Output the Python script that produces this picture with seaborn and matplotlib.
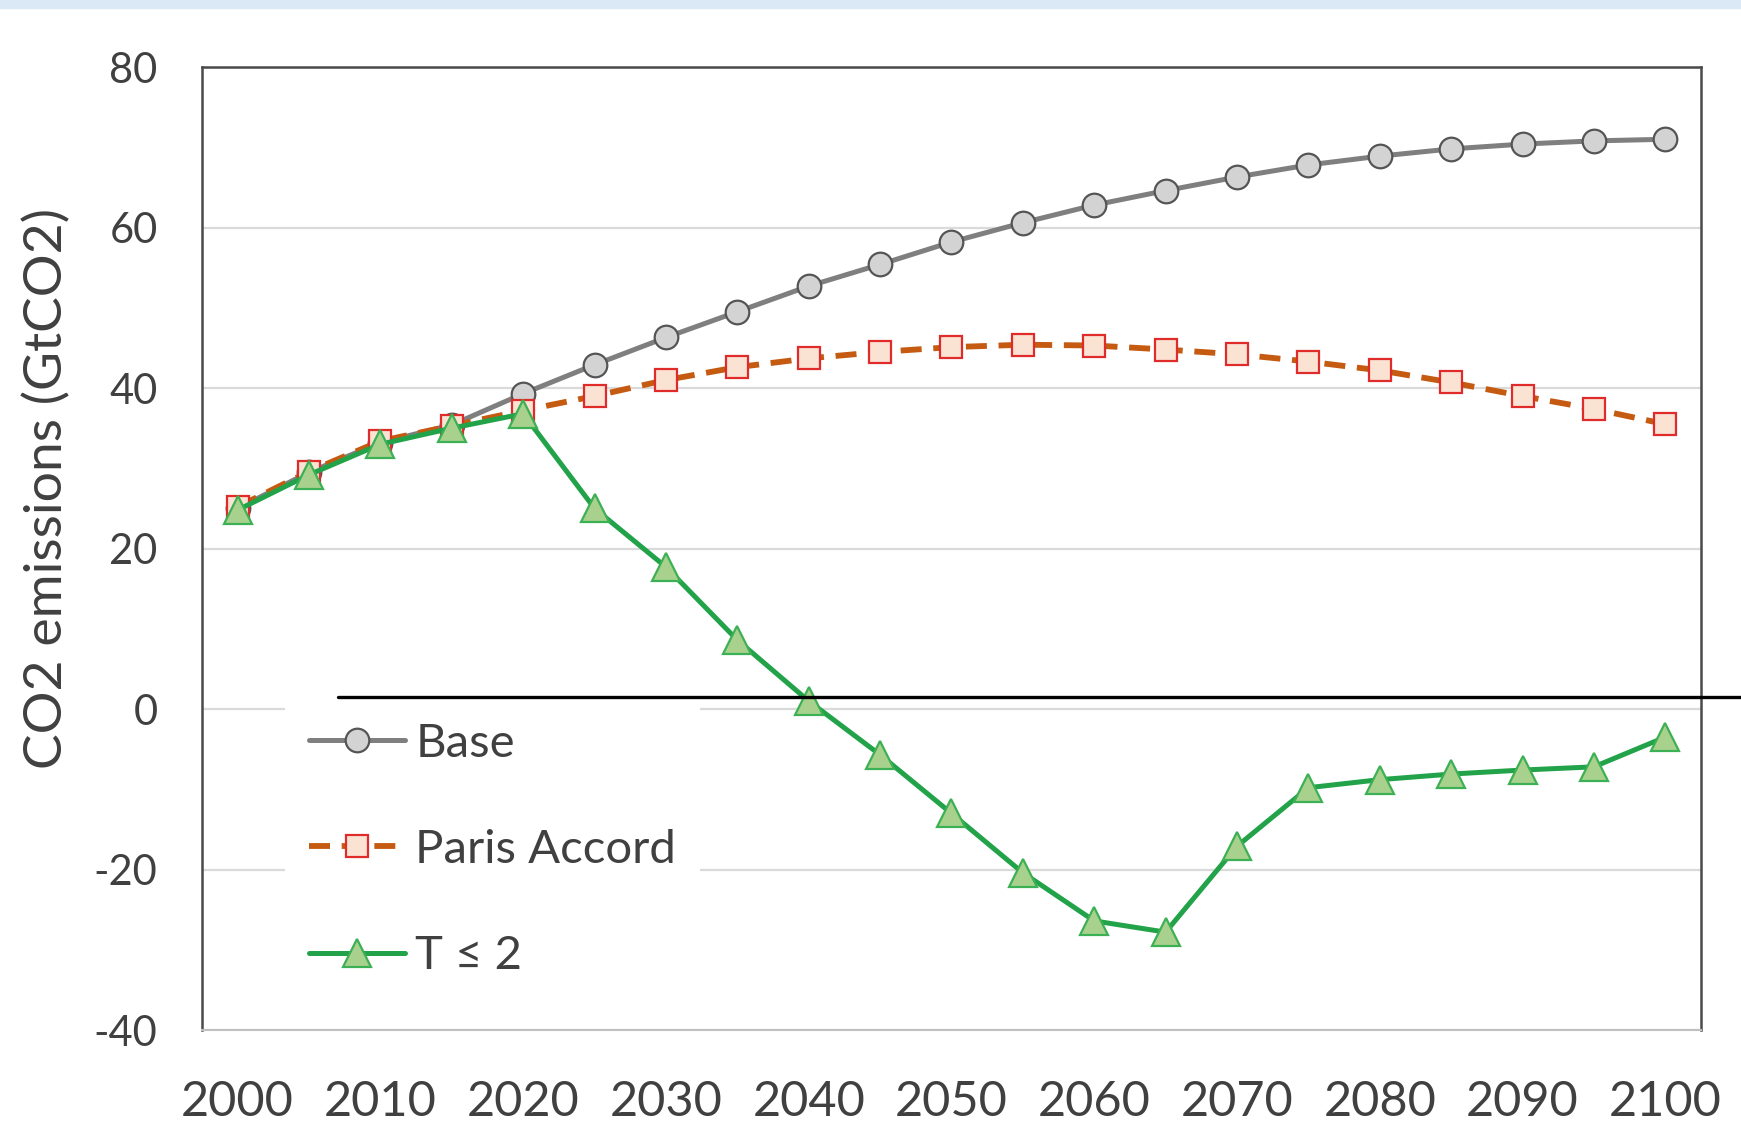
import numpy as np
import pandas as pd
import seaborn as sns
import matplotlib.pyplot as plt
from matplotlib.patches import Rectangle
from matplotlib.transforms import blended_transform_factory

# Emission pathways (GtCO2)
years = [2000, 2005, 2010, 2015, 2020, 2025, 2030, 2035, 2040, 2045, 2050,
         2055, 2060, 2065, 2070, 2075, 2080, 2085, 2090, 2095, 2100]
base = [25.0, 29.5, 33.2, 35.4, 39.3, 42.9, 46.3, 49.5, 52.7, 55.4, 58.2,
        60.6, 62.8, 64.6, 66.3, 67.8, 68.9, 69.8, 70.4, 70.8, 71.0]
paris = [25.2, 29.6, 33.4, 35.3, 37.2, 39.0, 41.0, 42.6, 43.7, 44.5, 45.1,
         45.4, 45.3, 44.8, 44.2, 43.3, 42.2, 40.7, 39.0, 37.4, 35.5]
t_le_2 = [24.8, 29.2, 33.0, 35.0, 36.8, 25.0, 17.7, 8.6, 1.0, -5.7, -13.0,
          -20.4, -26.4, -27.8, -17.1, -9.8, -8.8, -8.1, -7.6, -7.2, -3.5]
series_names = ['Base', 'Paris Accord', 'T \u2264 2']
tick_years = [2000, 2010, 2020, 2030, 2040, 2050, 2060, 2070, 2080, 2090, 2100]
y_ticks = [-40, -20, 0, 20, 40, 60, 80]

df = pd.DataFrame({'year': years, 'Base': base, 'Paris Accord': paris, 'T \u2264 2': t_le_2})

sns.set_theme(style='white')
plt.rcParams['font.family'] = ['Lato', 'DejaVu Sans']
TXT = '#404040'

fig = plt.figure(figsize=(17.41, 11.25), dpi=100)
ax = fig.add_axes([0.116, 0.0844, 0.861, 0.856])

styles = {
    'Base': dict(color='#7f7f7f', lw=3.6, marker='o', ms=17, mfc='#d3d3d3',
                 markeredgecolor='#555555', markeredgewidth=1.6, linestyle='-'),
    'Paris Accord': dict(color='#c55a11', lw=4.2, marker='s', ms=16, mfc='#fbe3d3',
                         markeredgecolor='#e02b2b', markeredgewidth=1.6,
                         linestyle=(0, (3.6, 2.0))),
    'T \u2264 2': dict(color='#22a34a', lw=3.6, marker='^', ms=20, mfc='#a9d18e',
                       markeredgecolor='#3cb054', markeredgewidth=1.6, linestyle='-'),
}
for name in series_names:
    sns.lineplot(data=df, x='year', y=name, ax=ax, label=name,
                 estimator=None, legend=False, **styles[name])

ax.set_xlim(1997.5, 2102.5)
ax.set_ylim(-40, 80)
ax.set_yticks(y_ticks)
ax.set_yticklabels([str(v) for v in y_ticks])
ax.set_xticks(tick_years)
ax.set_xticklabels([str(v) for v in tick_years])
ax.set_xticks(np.arange(1997.5, 2103, 5), minor=True)
ax.tick_params(axis='y', length=0, pad=32, labelsize=30, labelcolor=TXT)
ax.tick_params(axis='x', which='major', length=0, pad=36, labelsize=35, labelcolor=TXT)
ax.tick_params(axis='x', which='minor', direction='in', length=11, width=1.3,
               color='#c0c0c0')
ax.set_xlabel('')
ax.set_ylabel('CO2 emissions (GtCO2)', fontsize=38.5, color=TXT, va='center')
ax.yaxis.set_label_coords(-0.103, 0.562)

ax.set_axisbelow(True)
ax.yaxis.grid(True, color='#dadada', lw=1.6)
ax.xaxis.grid(False)
for side in ['left', 'top', 'right']:
    ax.spines[side].set_color('#4a4a4a')
    ax.spines[side].set_linewidth(1.8)
ax.spines['bottom'].set_color('#c0c0c0')
ax.spines['bottom'].set_linewidth(1.5)

leg = ax.legend(loc='upper left', bbox_to_anchor=(0.0554, 0.3437), borderaxespad=0,
                fontsize=34, frameon=True, fancybox=False, facecolor='white',
                edgecolor='none', framealpha=1, handlelength=2.05,
                handletextpad=0.21, labelspacing=1.36, borderpad=0.5)
for t in leg.get_texts():
    t.set_color(TXT)

# hand-drawn black line just above zero, running past the right edge
trans = blended_transform_factory(ax.transAxes, ax.transData)
ax.plot([0.0907, 1.03], [1.5, 1.5], color='black', lw=2.4, transform=trans,
        clip_on=False, zorder=6)

# light strip along the top of the screenshot
fig.patches.append(Rectangle((0, 0.993), 1, 0.007, transform=fig.transFigure,
                             color='#dbe8f5', zorder=0))

fig.savefig('out.png', dpi=100)
